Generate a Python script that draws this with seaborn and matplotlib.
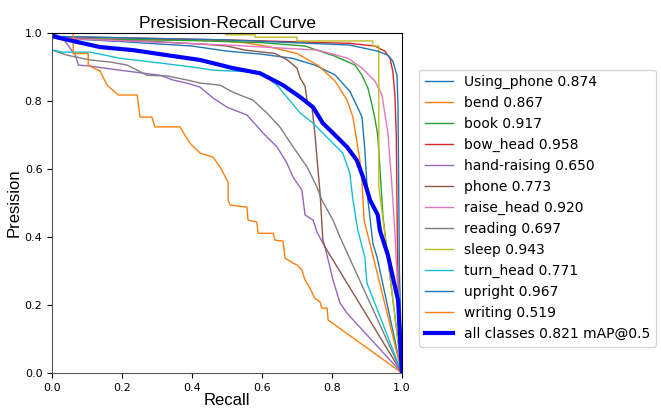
import matplotlib
matplotlib.use("Agg")
import matplotlib.pyplot as plt
import seaborn as sns

# per-class PR curves (recall, precision)
using_phone_r = [0, 0.02, 0.2, 0.4, 0.5, 0.6, 0.686, 0.751, 0.809, 0.851, 0.874, 0.886, 0.894, 0.903, 0.917, 0.929, 1.0]
using_phone_p = [1.0, 0.985, 0.975, 0.962, 0.947, 0.938, 0.926, 0.906, 0.877, 0.829, 0.78, 0.753, 0.656, 0.509, 0.382, 0.341, 0.0]

bend_r = [0, 0.02, 0.45, 0.55, 0.62, 0.7, 0.76, 0.809, 0.843, 0.86, 0.88, 0.886, 0.892, 1.0]
bend_p = [1.0, 0.982, 0.98, 0.972, 0.96, 0.94, 0.905, 0.859, 0.803, 0.753, 0.626, 0.559, 0.45, 0.0]

book_r = [0, 0.02, 0.4, 0.6, 0.723, 0.809, 0.866, 0.886, 0.903, 0.912, 0.922, 0.931, 0.937, 0.946, 0.957, 1.0]
book_p = [1.0, 0.985, 0.978, 0.972, 0.962, 0.932, 0.906, 0.876, 0.838, 0.8, 0.753, 0.7, 0.606, 0.459, 0.362, 0.0]

bow_head_r = [0, 0.02, 0.5, 0.85, 0.923, 0.951, 0.966, 0.974, 0.98, 0.984, 0.987, 0.99, 1.0]
bow_head_p = [1.0, 0.99, 0.98, 0.97, 0.962, 0.947, 0.926, 0.888, 0.818, 0.7, 0.4, 0.2, 0.0]

hand_r = [0, 0.03, 0.066, 0.075, 0.109, 0.2, 0.309, 0.346, 0.385, 0.423, 0.46, 0.5, 0.557, 0.603, 0.643,
          0.671, 0.689, 0.714, 0.723, 0.746, 0.757, 0.78, 0.794, 0.803, 0.823, 0.843, 1.0]
hand_p = [1.0, 0.985, 0.935, 0.906, 0.903, 0.89, 0.876, 0.862, 0.853, 0.841, 0.809, 0.782, 0.759, 0.706, 0.665,
          0.618, 0.576, 0.538, 0.465, 0.45, 0.415, 0.371, 0.312, 0.274, 0.206, 0.176, 0.0]

phone_r = [0, 0.02, 0.3, 0.45, 0.5, 0.551, 0.637, 0.674, 0.7, 0.709, 0.723, 0.729, 0.743, 0.751, 0.766, 0.774, 0.78, 1.0]
phone_p = [1.0, 0.985, 0.975, 0.966, 0.962, 0.95, 0.94, 0.92, 0.897, 0.868, 0.844, 0.8, 0.782, 0.706, 0.529, 0.391, 0.371, 0.0]

raise_head_r = [0, 0.02, 0.5, 0.76, 0.846, 0.886, 0.923, 0.943, 0.951, 0.96, 0.971, 0.98, 1.0]
raise_head_p = [1.0, 0.985, 0.965, 0.95, 0.926, 0.897, 0.859, 0.818, 0.765, 0.706, 0.559, 0.412, 0.0]

reading_r = [0, 0.043, 0.109, 0.166, 0.214, 0.243, 0.271, 0.329, 0.386, 0.423, 0.48, 0.517, 0.574, 0.614,
             0.651, 0.689, 0.729, 0.757, 0.771, 0.803, 0.823, 1.0]
reading_p = [0.95, 0.935, 0.921, 0.915, 0.906, 0.891, 0.876, 0.874, 0.862, 0.853, 0.847, 0.826, 0.803, 0.765,
             0.724, 0.665, 0.606, 0.547, 0.509, 0.45, 0.4, 0.0]

sleep_r = [0, 0.497, 0.497, 0.58, 0.58, 0.7, 0.7, 0.917, 0.917, 0.934, 0.934, 0.951, 0.98, 1.0]
sleep_p = [1.0, 1.0, 0.995, 0.995, 0.988, 0.988, 0.977, 0.977, 0.962, 0.962, 0.547, 0.412, 0.165, 0.0]

turn_head_r = [0, 0.03, 0.109, 0.194, 0.309, 0.403, 0.46, 0.594, 0.643, 0.671, 0.709, 0.746, 0.774, 0.803,
               0.831, 0.851, 0.86, 0.874, 0.894, 0.9, 1.0]
turn_head_p = [0.95, 0.944, 0.944, 0.926, 0.912, 0.9, 0.891, 0.885, 0.847, 0.812, 0.765, 0.735, 0.706, 0.676,
               0.647, 0.588, 0.509, 0.42, 0.341, 0.265, 0.0]

upright_r = [0, 0.02, 0.5, 0.85, 0.931, 0.96, 0.974, 0.986, 0.989, 0.993, 1.0]
upright_p = [1.0, 0.99, 0.98, 0.965, 0.947, 0.935, 0.918, 0.876, 0.779, 0.3, 0.0]

writing_r = [0, 0.06, 0.06, 0.103, 0.103, 0.137, 0.157, 0.189, 0.243, 0.251, 0.285, 0.294, 0.366, 0.374, 0.394,
             0.423, 0.46, 0.48, 0.503, 0.503, 0.509, 0.557, 0.56, 0.585, 0.589, 0.632, 0.637, 0.66, 0.666,
             0.689, 0.7, 0.714, 0.723, 0.737, 0.751, 0.766, 0.771, 0.786, 0.789, 1.0]
writing_p = [1.0, 1.0, 0.94, 0.94, 0.906, 0.888, 0.847, 0.818, 0.818, 0.753, 0.753, 0.724, 0.724, 0.709, 0.676,
             0.647, 0.635, 0.606, 0.562, 0.509, 0.494, 0.488, 0.45, 0.444, 0.411, 0.411, 0.391, 0.388, 0.338,
             0.323, 0.318, 0.303, 0.274, 0.25, 0.22, 0.209, 0.191, 0.191, 0.156, 0.0]

all_r = [0, 0.003, 0.071, 0.137, 0.231, 0.329, 0.423, 0.517, 0.594, 0.66, 0.709, 0.746, 0.774, 0.803, 0.843,
         0.871, 0.889, 0.909, 0.931, 0.937, 0.96, 0.974, 0.989, 0.994, 1.0]
all_p = [1.0, 0.99, 0.974, 0.959, 0.95, 0.935, 0.921, 0.897, 0.882, 0.847, 0.812, 0.782, 0.735, 0.706, 0.665,
         0.626, 0.576, 0.509, 0.465, 0.42, 0.347, 0.282, 0.215, 0.118, 0.0]

class_names = ['Using_phone', 'bend', 'book', 'bow_head', 'hand-raising', 'phone', 'raise_head',
               'reading', 'sleep', 'turn_head', 'upright', 'writing']
class_ap = [0.874, 0.867, 0.917, 0.958, 0.650, 0.773, 0.920, 0.697, 0.943, 0.771, 0.967, 0.519]
map50 = 0.821

curves = [(using_phone_r, using_phone_p), (bend_r, bend_p), (book_r, book_p), (bow_head_r, bow_head_p),
          (hand_r, hand_p), (phone_r, phone_p), (raise_head_r, raise_head_p), (reading_r, reading_p),
          (sleep_r, sleep_p), (turn_head_r, turn_head_p), (upright_r, upright_p), (writing_r, writing_p)]

fig = plt.figure(figsize=(6.61, 4.09), dpi=100)
ax = fig.add_axes([0.079, 0.088, 0.529, 0.831])

colors = sns.color_palette("tab10", 10)
for i, (name, ap) in enumerate(zip(class_names, class_ap)):
    r, p = curves[i]
    sns.lineplot(x=r, y=p, ax=ax, sort=False, estimator=None, color=colors[i % 10],
                 linewidth=1, label=f"{name} {ap:.3f}")

sns.lineplot(x=all_r, y=all_p, ax=ax, sort=False, estimator=None, color="blue",
             linewidth=3, label=f"all classes {map50:.3f} mAP@0.5")

ax.set_xlim(0, 1)
ax.set_ylim(0, 1)
arial = "Liberation Sans"
ax.set_xlabel("Recall", fontsize=12, family=arial, labelpad=0)
ax.set_ylabel("Presision", fontsize=12, family=arial, labelpad=2)
ax.set_title("Presision-Recall Curve", fontsize=12.5, family=arial, pad=4)
ax.tick_params(labelsize=8)
for side in ["left", "bottom"]:
    ax.spines[side].set_color("#555555")
ax.legend(loc="center left", bbox_to_anchor=(1.03, 0.485), fontsize=10, frameon=True)

fig.savefig("out.png", dpi=100)
